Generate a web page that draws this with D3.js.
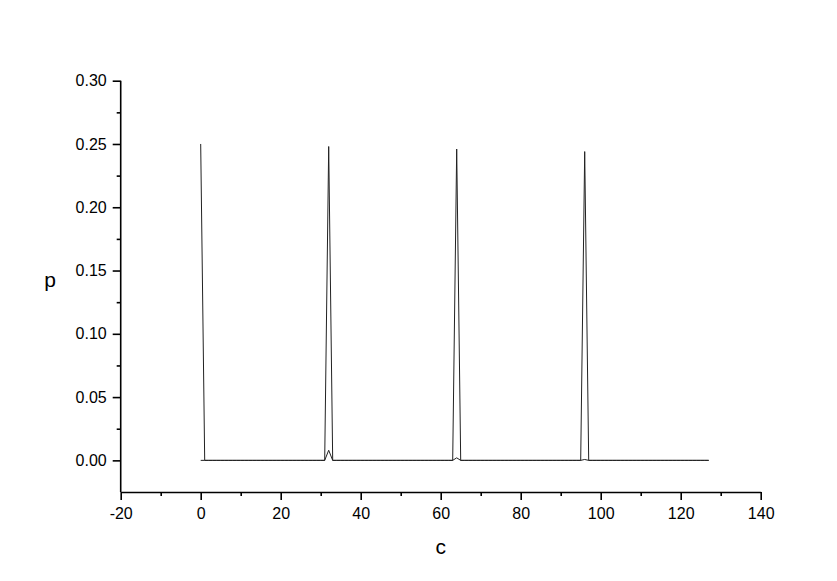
<!DOCTYPE html>
<html>
<head>
<meta charset="utf-8">
<script src="https://cdn.jsdelivr.net/npm/d3@7"></script>
<style>
  html, body { margin: 0; padding: 0; background: #fff; }
  svg { display: block; font-family: Arial, "Liberation Sans", sans-serif; }
</style>
</head>
<body>
<svg id="chart" width="837" height="581"></svg>
<script>
// probability p over channel c: tall spikes every 32, small side bumps underneath
const pMain = [
  0.25, 0, 0, 0, 0, 0, 0, 0, 0, 0, 0, 0, 0, 0, 0, 0,
  0, 0, 0, 0, 0, 0, 0, 0, 0, 0, 0, 0, 0, 0, 0, 0,
  0.248, 0, 0, 0, 0, 0, 0, 0, 0, 0, 0, 0, 0, 0, 0, 0,
  0, 0, 0, 0, 0, 0, 0, 0, 0, 0, 0, 0, 0, 0, 0, 0,
  0.246, 0, 0, 0, 0, 0, 0, 0, 0, 0, 0, 0, 0, 0, 0, 0,
  0, 0, 0, 0, 0, 0, 0, 0, 0, 0, 0, 0, 0, 0, 0, 0,
  0.244, 0, 0, 0, 0, 0, 0, 0, 0, 0, 0, 0, 0, 0, 0, 0,
  0, 0, 0, 0, 0, 0, 0, 0, 0, 0, 0, 0, 0, 0, 0, 0
];
const pSmall = [
  0, 0, 0, 0, 0, 0, 0, 0, 0, 0, 0, 0, 0, 0, 0, 0,
  0, 0, 0, 0, 0, 0, 0, 0, 0, 0, 0, 0, 0, 0, 0, 0,
  0.008, 0, 0, 0, 0, 0, 0, 0, 0, 0, 0, 0, 0, 0, 0, 0,
  0, 0, 0, 0, 0, 0, 0, 0, 0, 0, 0, 0, 0, 0, 0, 0,
  0.002, 0, 0, 0, 0, 0, 0, 0, 0, 0, 0, 0, 0, 0, 0, 0,
  0, 0, 0, 0, 0, 0, 0, 0, 0, 0, 0, 0, 0, 0, 0, 0,
  0.0007, 0, 0, 0, 0, 0, 0, 0, 0, 0, 0, 0, 0, 0, 0, 0,
  0, 0, 0, 0, 0, 0, 0, 0, 0, 0, 0, 0, 0, 0, 0, 0
];
const cValues = d3.range(pMain.length);   // channel index 0..127
const xTicks = [-20, 0, 20, 40, 60, 80, 100, 120, 140];
const xMinor = [-10, 10, 30, 50, 70, 90, 110, 130];
const yTicks = [0, 0.05, 0.10, 0.15, 0.20, 0.25, 0.30];
const yMinor = [0.025, 0.075, 0.125, 0.175, 0.225, 0.275];

const svg = d3.select('#chart');
const x = d3.scaleLinear().domain([-20, 140]).range([120.7, 760.7]);
const y = d3.scaleLinear().domain([-0.025, 0.30]).range([492, 80.7]);

// data lines first, axes on top
const line = d3.line().x(d => x(d[0])).y(d => y(d[1]));
[pSmall, pMain].forEach(ps => {
  svg.append('path').datum(cValues.map((c, i) => [c, ps[i]]))
    .attr('d', line).attr('fill', 'none').attr('stroke', '#222').attr('stroke-width', 1)
    .attr('stroke-linejoin', 'miter');
});

function styleAxis(g) {
  g.selectAll('path, line').attr('stroke', '#000').attr('stroke-width', 1.6);
  g.selectAll('text').attr('fill', '#000').attr('font-size', '16px');
}

const gx = svg.append('g').attr('transform', `translate(0,${y(-0.025)})`);
gx.call(d3.axisBottom(x).tickValues(xTicks).tickSize(8).tickSizeOuter(0).tickPadding(8).tickFormat(d => String(d))).call(styleAxis);
svg.append('g').attr('transform', `translate(0,${y(-0.025)})`)
  .call(d3.axisBottom(x).tickValues(xMinor).tickSize(4).tickFormat('')).call(styleAxis)
  .select('.domain').remove();

const gy = svg.append('g').attr('transform', `translate(${x(-20)},0)`);
gy.call(d3.axisLeft(y).tickValues(yTicks).tickSize(8).tickSizeOuter(0).tickPadding(6).tickFormat(d3.format('.2f'))).call(styleAxis);
svg.append('g').attr('transform', `translate(${x(-20)},0)`)
  .call(d3.axisLeft(y).tickValues(yMinor).tickSize(4).tickFormat('')).call(styleAxis)
  .select('.domain').remove();
// y axis runs down to the x axis line
gy.select('.domain').attr('d', `M0,${y(0.30)}V${y(-0.025)}`);

svg.append('text').attr('x', 50).attr('y', 287).attr('text-anchor', 'middle')
  .attr('font-size', '21px').text('p');
svg.append('text').attr('x', x(60)).attr('y', 554).attr('text-anchor', 'middle')
  .attr('font-size', '21px').text('c');
</script>
</body>
</html>
